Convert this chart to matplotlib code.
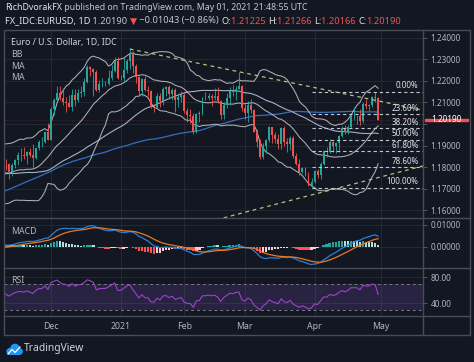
import numpy as np
import pandas as pd
import matplotlib
matplotlib.use('Agg')
import matplotlib.pyplot as plt
from matplotlib.patches import Rectangle, Circle
from matplotlib.transforms import blended_transform_factory

plt.rcParams['font.family'] = ['Noto Sans', 'DejaVu Sans']

W, H = 474, 362
BG = '#131722'
FRAME = '#484c57'
GRID = '#252934'
TXT = '#b2b5be'
UP = '#26a69a'
DN = '#ef5350'

# daily EURUSD bars shown on the chart, 10 Nov 2020 .. 30 Apr 2021 (every weekday)
opens = [
    1.1815, 1.1812, 1.1777, 1.1807, 1.1834, 1.1855, 1.1858, 1.1850, 1.1870, 1.1858, 1.1840, 1.1888, 1.1915, 1.1916, 1.1962,
    1.1927, 1.2071, 1.2113, 1.2146, 1.2120, 1.2104, 1.2099, 1.2080, 1.2137, 1.2110, 1.2144, 1.2150, 1.2195, 1.2265, 1.2255,
    1.2240, 1.2160, 1.2185, 1.2186, 1.2188, 1.2215, 1.2248, 1.2295,
    1.2215, 1.2215, 1.2250, 1.2295, 1.2325, 1.2270, 1.2220, 1.2152, 1.2207, 1.2157, 1.2155, 1.2081, 1.2077, 1.2130, 1.2105,
    1.2165, 1.2170, 1.2140, 1.2160, 1.2110, 1.2125,
    1.2136, 1.2060, 1.2040, 1.2035, 1.1963, 1.2045, 1.2050, 1.2120, 1.2120, 1.2132, 1.2120, 1.2130, 1.2105, 1.2040, 1.2090,
    1.2120, 1.2155, 1.2150, 1.2165, 1.2175,
    1.2075, 1.2050, 1.2090, 1.2065, 1.1965, 1.1915, 1.1845, 1.1900, 1.1925, 1.1985, 1.1950, 1.1930, 1.1905, 1.1980, 1.1915,
    1.1905, 1.1935, 1.1850, 1.1815, 1.1775, 1.1795, 1.1765, 1.1715,
    1.1730, 1.1780, 1.1765, 1.1815, 1.1875, 1.1870, 1.1915, 1.1900, 1.1910, 1.1945, 1.1980, 1.1965, 1.1985, 1.2035, 1.2035,
    1.2035, 1.2015, 1.2095, 1.2085, 1.2090, 1.2125, 1.2123]
highs = [
    1.1838, 1.1817, 1.1820, 1.1837, 1.1868, 1.1890, 1.1892, 1.1873, 1.1890, 1.1905, 1.1890, 1.1925, 1.1940, 1.1965, 1.2003,
    1.2077, 1.2121, 1.2176, 1.2178, 1.2167, 1.2127, 1.2135, 1.2163, 1.2162, 1.2163, 1.2178, 1.2212, 1.2273, 1.2272, 1.2259,
    1.2250, 1.2203, 1.2212, 1.2200, 1.2250, 1.2276, 1.2310, 1.2310,
    1.2228, 1.2310, 1.2300, 1.2349, 1.2338, 1.2279, 1.2224, 1.2212, 1.2223, 1.2178, 1.2159, 1.2095, 1.2145, 1.2145, 1.2172,
    1.2175, 1.2180, 1.2169, 1.2168, 1.2140, 1.2155,
    1.2150, 1.2075, 1.2070, 1.2050, 1.2050, 1.2060, 1.2127, 1.2150, 1.2144, 1.2138, 1.2169, 1.2170, 1.2110, 1.2100, 1.2144,
    1.2170, 1.2181, 1.2176, 1.2243, 1.2183,
    1.2094, 1.2108, 1.2114, 1.2068, 1.1975, 1.1930, 1.1910, 1.1930, 1.1990, 1.1988, 1.1962, 1.1952, 1.1988, 1.1990, 1.1935,
    1.1942, 1.1942, 1.1865, 1.1835, 1.1800, 1.1800, 1.1777, 1.1750,
    1.1785, 1.1790, 1.1825, 1.1880, 1.1895, 1.1928, 1.1922, 1.1915, 1.1950, 1.1990, 1.1994, 1.1994, 1.2049, 1.2080, 1.2043,
    1.2072, 1.2100, 1.2117, 1.2095, 1.2130, 1.2150, 1.2127]
lows = [
    1.1787, 1.1746, 1.1760, 1.1795, 1.1810, 1.1830, 1.1835, 1.1814, 1.1845, 1.1800, 1.1835, 1.1880, 1.1895, 1.1910, 1.1925,
    1.1925, 1.2040, 1.2105, 1.2112, 1.2089, 1.2058, 1.2077, 1.2060, 1.2083, 1.2102, 1.2125, 1.2131, 1.2190, 1.2223, 1.2130,
    1.2152, 1.2151, 1.2172, 1.2176, 1.2183, 1.2206, 1.2240, 1.2210,
    1.2205, 1.2195, 1.2236, 1.2256, 1.2237, 1.2192, 1.2132, 1.2131, 1.2154, 1.2130, 1.2076, 1.2054, 1.2075, 1.2080, 1.2090,
    1.2130, 1.2117, 1.2112, 1.2058, 1.2080, 1.2104,
    1.2049, 1.2010, 1.2003, 1.1952, 1.1960, 1.2011, 1.2040, 1.2110, 1.2110, 1.2085, 1.2112, 1.2096, 1.2023, 1.2022, 1.2076,
    1.2090, 1.2129, 1.2110, 1.2162, 1.2062,
    1.2024, 1.2010, 1.2049, 1.1962, 1.1893, 1.1836, 1.1835, 1.1867, 1.1915, 1.1910, 1.1910, 1.1885, 1.1882, 1.1896, 1.1872,
    1.1880, 1.1840, 1.1809, 1.1762, 1.1770, 1.1760, 1.1710, 1.1704,
    1.1725, 1.1750, 1.1745, 1.1808, 1.1845, 1.1865, 1.1870, 1.1867, 1.1872, 1.1940, 1.1955, 1.1953, 1.1983, 1.2020, 1.2000,
    1.1996, 1.2005, 1.2068, 1.2060, 1.2080, 1.2102, 1.2017]
closes = [
    1.1812, 1.1777, 1.1807, 1.1834, 1.1855, 1.1858, 1.1850, 1.1870, 1.1858, 1.1840, 1.1888, 1.1915, 1.1916, 1.1962, 1.1927,
    1.2071, 1.2113, 1.2146, 1.2120, 1.2104, 1.2099, 1.2080, 1.2137, 1.2110, 1.2144, 1.2150, 1.2195, 1.2265, 1.2255, 1.2240,
    1.2160, 1.2185, 1.2186, 1.2188, 1.2215, 1.2248, 1.2295, 1.2215,
    1.2215, 1.2250, 1.2295, 1.2325, 1.2270, 1.2220, 1.2152, 1.2207, 1.2157, 1.2155, 1.2081, 1.2077, 1.2130, 1.2105, 1.2165,
    1.2170, 1.2140, 1.2160, 1.2110, 1.2125, 1.2136,
    1.2060, 1.2040, 1.2035, 1.1963, 1.2045, 1.2050, 1.2120, 1.2120, 1.2132, 1.2120, 1.2130, 1.2105, 1.2040, 1.2090, 1.2120,
    1.2155, 1.2150, 1.2165, 1.2175, 1.2075,
    1.2050, 1.2090, 1.2065, 1.1965, 1.1915, 1.1845, 1.1900, 1.1925, 1.1985, 1.1950, 1.1930, 1.1905, 1.1980, 1.1915, 1.1905,
    1.1935, 1.1850, 1.1815, 1.1775, 1.1795, 1.1765, 1.1715, 1.1730,
    1.1780, 1.1765, 1.1815, 1.1875, 1.1870, 1.1915, 1.1900, 1.1910, 1.1945, 1.1980, 1.1965, 1.1985, 1.2035, 1.2035, 1.2035,
    1.2015, 1.2095, 1.2085, 1.2090, 1.2125, 1.2120, 1.2019]

# closes before the visible window (mid Jun .. 9 Nov 2020), only feed the indicators
warmup_closes = [
    1.1240, 1.1265, 1.1245, 1.1205, 1.1180, 1.1260, 1.1310, 1.1250, 1.1220, 1.1220, 1.1240, 1.1235,
    1.1250, 1.1240, 1.1245, 1.1310, 1.1275, 1.1330, 1.1285, 1.1300, 1.1340, 1.1410, 1.1410, 1.1385,
    1.1425, 1.1445, 1.1525, 1.1570, 1.1595, 1.1655, 1.1755, 1.1715, 1.1790, 1.1845, 1.1775,
    1.1765, 1.1800, 1.1860, 1.1875, 1.1785, 1.1735, 1.1740, 1.1785, 1.1815, 1.1840, 1.1870, 1.1930,
    1.1835, 1.1860, 1.1795, 1.1795, 1.1835, 1.1830, 1.1820, 1.1905, 1.1935,
    1.1915, 1.1855, 1.1850, 1.1835, 1.1815, 1.1780, 1.1800, 1.1815, 1.1845, 1.1865, 1.1845, 1.1815,
    1.1850, 1.1840, 1.1770, 1.1705, 1.1660, 1.1670, 1.1630, 1.1665, 1.1745, 1.1720,
    1.1745, 1.1715, 1.1780, 1.1735, 1.1760, 1.1760, 1.1825, 1.1815, 1.1745, 1.1745, 1.1705, 1.1715,
    1.1770, 1.1820, 1.1860, 1.1815, 1.1860, 1.1810, 1.1795, 1.1745, 1.1675, 1.1645,
    1.1640, 1.1715, 1.1720, 1.1830, 1.1875, 1.1815]

first_day = '2020-11-10'
price_ticks = [1.16, 1.17, 1.18, 1.19, 1.20, 1.21, 1.22, 1.23, 1.24]
macd_ticks = [0.0, 0.01]
rsi_ticks = [40, 80]
fib_high, fib_low, fib_from = 1.2150, 1.1704, 101
fib_levels = [0.0, 0.236, 0.382, 0.5, 0.618, 0.786, 1.0]
fib_names = ['0.00%', '23.60%', '38.20%', '50.00%', '61.80%', '78.60%', '100.00%']
upper_trend = ([41, 77], [1.2349, 1.2243])
lower_trend = ([101, 137.8], [1.1670, 1.1805])

# ---- indicators, computed the way the chart does
allc = pd.Series(warmup_closes + closes, dtype=float)
n0 = len(warmup_closes)
basis = allc.rolling(20).mean()
dev = allc.rolling(20).std(ddof=0)
bb_mid = basis.to_numpy()[n0:]
bb_up = (basis + 2 * dev).to_numpy()[n0:]
bb_lo = (basis - 2 * dev).to_numpy()[n0:]
ma50 = allc.rolling(50).mean().to_numpy()[n0:]
ma100 = allc.rolling(100).mean().to_numpy()[n0:]
macd_full = allc.ewm(span=12, adjust=False).mean() - allc.ewm(span=26, adjust=False).mean()
sig_full = macd_full.ewm(span=9, adjust=False).mean()
hist_full = (macd_full - sig_full).to_numpy()
macd = macd_full.to_numpy()[n0:]
sig = sig_full.to_numpy()[n0:]
hist = hist_full[n0:]
hist_prev = hist_full[n0 - 1:-1]
delta = allc.diff()
gain = delta.clip(lower=0).ewm(alpha=1 / 14, adjust=False).mean()
loss = (-delta.clip(upper=0)).ewm(alpha=1 / 14, adjust=False).mean()
rsi = (100 - 100 / (1 + gain / loss)).to_numpy()[n0:]

x = np.arange(len(closes))
o, h, l, c = map(np.array, (opens, highs, lows, closes))

# month ticks: first weekday of each month
cal = pd.bdate_range(first_day, periods=140)
starts = [i for i in range(1, len(cal)) if cal[i].month != cal[i - 1].month]
tick_lbl = [str(cal[i].year) if cal[i].month == 1 else cal[i].strftime('%b') for i in starts]

fig = plt.figure(figsize=(W / 100, H / 100), dpi=100, facecolor=BG)


def box(x0, y0, x1, y1):
    return [x0 / W, 1 - y1 / H, (x1 - x0) / W, (y1 - y0) / H]


ax = fig.add_axes(box(4, 30, 423, 218))
ax_m = fig.add_axes(box(4, 218, 423, 268), sharex=ax)
ax_r = fig.add_axes(box(4, 268, 423, 316), sharex=ax)

for a in (ax, ax_m, ax_r):
    a.set_facecolor(BG)
    for s in a.spines.values():
        s.set_visible(False)
    a.yaxis.tick_right()
    a.tick_params(axis='y', colors=TXT, labelsize=5.9, length=3, width=0.6, pad=2.5)
    a.tick_params(axis='y', color='#5d606b')
    a.tick_params(axis='x', length=0, labelbottom=False)
    a.set_xticks(starts)
    a.grid(True, color=GRID, lw=0.7)
    a.set_axisbelow(True)

ax.set_xlim(-0.5, 137.8)

# ---- price panel
col = np.where(c >= o, UP, DN)
ax.vlines(x, l, h, colors=col, lw=0.6, zorder=3)
ax.bar(x, np.maximum(np.abs(c - o), 0.00012), 0.62, bottom=np.minimum(o, c), color=col, lw=0, zorder=3)
ax.plot(x, ma100, color='#3570b8', lw=0.9, zorder=2)
ax.plot(x, ma50, color='#9fb3cc', lw=0.8, zorder=2)
for band in (bb_up, bb_mid, bb_lo):
    ax.plot(x, band, color='#c9cbd1', lw=0.75, alpha=0.85, zorder=2)

tx, ty = upper_trend
k = (ty[1] - ty[0]) / (tx[1] - tx[0])
ax.plot([tx[0], 140], [ty[0], ty[0] + k * (140 - tx[0])], color='#b9c27a', lw=0.9, ls=(0, (3, 3)), zorder=4)
tx, ty = lower_trend
k = (ty[1] - ty[0]) / (tx[1] - tx[0])
ax.plot([60, 140], [ty[0] + k * (60 - tx[0]), ty[0] + k * (140 - tx[0])], color='#b9c27a', lw=0.9,
        ls=(0, (3, 3)), zorder=4)

for lev, name in zip(fib_levels, fib_names):
    p = fib_high - lev * (fib_high - fib_low)
    ax.plot([fib_from, 140], [p, p], color='#c3c5cb', lw=0.8, ls=(0, (3, 2.5)), zorder=4)
    ax.text(136.3, p + 0.0007, name, color='#e0e2e8', fontsize=5.8, ha='right', va='bottom', zorder=5)

ax.axhline(closes[-1], color=DN, lw=0.6, ls=(0, (1, 2)), alpha=0.35, zorder=2)
ax.set_ylim(1.15628, 1.24372)
ax.set_yticks(price_ticks)
# the 1.20000 label sits under the last-price tag, as on the chart
ax.set_yticklabels(['' if abs(v - 1.20) < 1e-9 else '%.5f' % v for v in price_ticks])

ax.text(0.016, 0.935, 'Euro / U.S. Dollar, 1D, IDC', transform=ax.transAxes, color='#d1d4dc',
        fontsize=6.3, fontweight='semibold', va='center')
for i, name in enumerate(['BB', 'MA', 'MA']):
    ax.text(0.016, 0.87 - i * 0.062, name, transform=ax.transAxes, color=TXT, fontsize=6.3, va='center')

# price tag on the axis
tr = blended_transform_factory(ax.transAxes, ax.transData)
ax.add_patch(Rectangle((1.004, closes[-1] - 0.00045), 0.103, 0.0009, transform=tr, color='#f05350',
                       clip_on=False, zorder=6))
ax.text(1.055, closes[-1], '%.5f' % closes[-1], transform=tr, color='white', fontsize=5.9,
        ha='center', va='center', zorder=7)

# ---- MACD panel
hcol = np.where(hist >= 0, np.where(hist > hist_prev, '#26a69a', '#b2dfdb'),
                np.where(hist < hist_prev, '#ff5252', '#ffcdd2'))
ax_m.bar(x, hist, 0.8, color=hcol, lw=0, zorder=2)
ax_m.plot(x, macd, color='#2a7fd8', lw=0.9, zorder=3)
ax_m.plot(x, sig, color='#e67a26', lw=0.9, zorder=3)
ax_m.set_ylim(-0.00955, 0.01318)
ax_m.set_yticks(macd_ticks)
ax_m.set_yticklabels(['%.5f' % v for v in macd_ticks])
ax_m.text(0.016, 0.74, 'MACD', transform=ax_m.transAxes, color=TXT, fontsize=6.3, va='center')

# ---- RSI panel
ax_r.axhspan(30, 70, color='#7e57c2', alpha=0.2, lw=0, zorder=1)
for lv in (30, 70):
    ax_r.axhline(lv, color='#787b86', lw=0.7, ls=(0, (3, 3)), zorder=2)
ax_r.plot(x, rsi, color='#9b45c9', lw=0.8, zorder=3)
ax_r.set_ylim(20, 93.85)
ax_r.set_yticks(rsi_ticks)
ax_r.set_yticklabels(['%.2f' % v for v in rsi_ticks])
ax_r.text(0.016, 0.73, 'RSI', transform=ax_r.transAxes, color=TXT, fontsize=6.3, va='center')
ax_r.tick_params(axis='x', labelbottom=True, colors=TXT, labelsize=6.3, pad=4.5)
ax_r.set_xticklabels(tick_lbl)
for t in ax_r.get_xticklabels():
    if t.get_text().isdigit():
        t.set_fontweight('bold')

# ---- frame, header and footer drawn in pixel space
ov = fig.add_axes([0, 0, 1, 1], zorder=10)
ov.set_xlim(0, W)
ov.set_ylim(H, 0)
ov.axis('off')
ov.add_patch(Rectangle((4, 30), 466, 305, fill=False, ec=FRAME, lw=1))
for yy in (218, 268, 316):
    ov.plot([4, 470], [yy, yy], color=FRAME, lw=1)
ov.plot([423, 423], [30, 335], color=FRAME, lw=1)


def chain(parts, x0, y0, size):
    t = ov.text(x0, y0, parts[0][0], color=parts[0][1], fontweight=parts[0][2], fontsize=size, va='center')
    for s, cl, wt in parts[1:]:
        t = ov.annotate(s, xy=(1, 0), xycoords=t, va='bottom', color=cl, fontweight=wt, fontsize=size)
    return t


chain([('RichDvorakFX', '#e0e3eb', 'bold'),
       (' published on TradingView.com, May 01, 2021 21:48:55 UTC', '#c3c6ce', 'normal')], 5, 8, 6.35)
RED = '#f05350'
chain([('FX_IDC:EURUSD, 1D', '#e0e3eb', 'bold'), (' 1.20190 ', '#c3c6ce', 'normal'),
       ('\u25bc', RED, 'normal'), (' \u22120.01043 (\u22120.86%) ', '#c3c6ce', 'normal'),
       ('O:', '#e0e3eb', 'bold'), ('1.21225 ', RED, 'normal'),
       ('H:', '#e0e3eb', 'bold'), ('1.21266 ', RED, 'normal'),
       ('L:', '#e0e3eb', 'bold'), ('1.20166 ', RED, 'normal'),
       ('C:', '#e0e3eb', 'bold'), ('1.20190', RED, 'normal')], 5, 21, 6.65)

# TradingView logo
for cx, cy, r in ((10, 351.5, 3.6), (15, 348.5, 4.8), (19.5, 351.5, 3.4)):
    ov.add_patch(Circle((cx, cy), r, color='#2196f3', lw=0))
ov.add_patch(Rectangle((10, 350), 9.5, 5, color='#2196f3', lw=0))
ov.plot([8, 12, 15, 20], [354, 349.5, 352.5, 347], color='white', lw=0.9)
ov.text(24, 349, 'TradingView', color='#d1d4dc', fontsize=7.4, va='center')

fig.savefig('out.png', dpi=100, facecolor=BG)
